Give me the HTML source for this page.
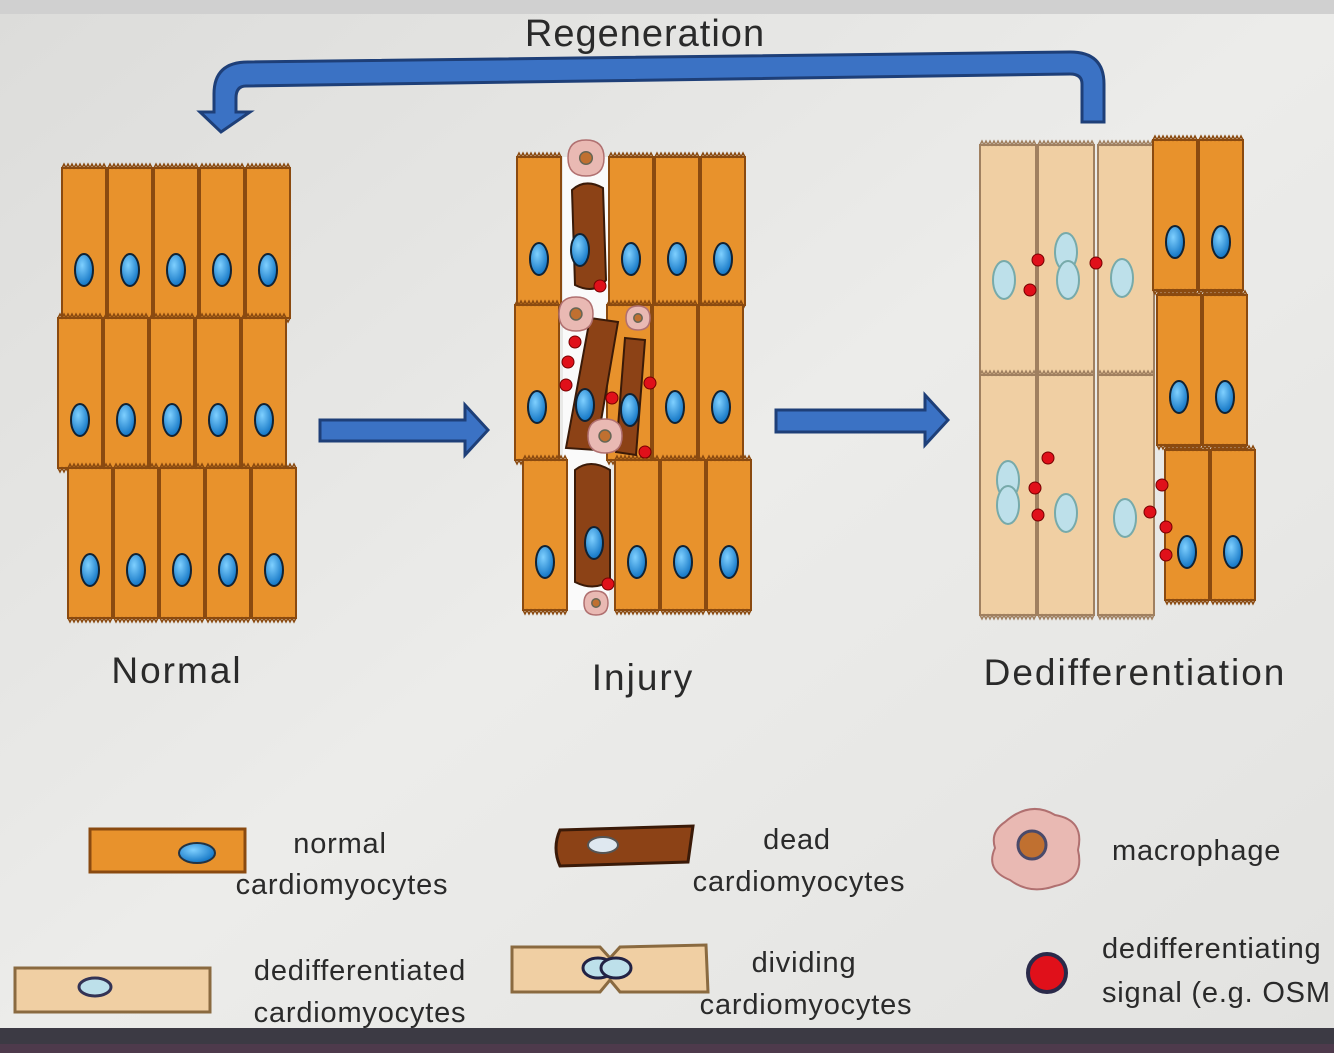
<!DOCTYPE html>
<html><head><meta charset="utf-8"><style>
html,body{margin:0;padding:0;width:1334px;height:1053px;overflow:hidden;background:#e6e6e4}
svg{display:block}
text{font-family:"Liberation Sans","DejaVu Sans",sans-serif;fill:#2a2a2a}
.big{letter-spacing:2px}
.leg{letter-spacing:0.8px}
</style></head><body>
<svg id="s" width="1334" height="1053" viewBox="0 0 1334 1053" xmlns="http://www.w3.org/2000/svg">
<defs>
<linearGradient id="bg" x1="0" y1="0" x2="1" y2="1"><stop offset="0" stop-color="#dcdcda"/><stop offset="0.5" stop-color="#ececea"/><stop offset="1" stop-color="#e2e2e0"/></linearGradient>
<radialGradient id="nuc" cx="0.4" cy="0.35" r="0.7"><stop offset="0" stop-color="#7fd0ff"/><stop offset="1" stop-color="#0a6ec0"/></radialGradient>
</defs>
<rect width="1334" height="1053" fill="url(#bg)"/>
<rect x="0" y="0" width="1334" height="14" fill="#d0d0d0"/>
<g id="cells"></g>
<path d="M1104,122 L1082,122 L1082,84 Q1082,74 1070,74 L246,86 Q236,86 236,98 L236,112 L250,112 L221,132 L200,112 L214,112 L214,94 Q214,62 248,62 L1070,52 Q1104,52 1104,84 Z" fill="#3b72c4" stroke="#1e3f78" stroke-width="3"/>
<path d="M320,420 L465,420 L465,405 L488,430 L465,455 L465,441 L320,441 Z" fill="#3b72c4" stroke="#1e3f78" stroke-width="3"/>
<path d="M776,410 L925,410 L925,395 L948,420 L925,445 L925,432 L776,432 Z" fill="#3b72c4" stroke="#1e3f78" stroke-width="3"/>
<text x="645" y="46" font-size="38" text-anchor="middle" style="letter-spacing:1px">Regeneration</text>
<text x="177" y="683" font-size="37" text-anchor="middle" class="big">Normal</text>
<text x="643" y="690" font-size="37" text-anchor="middle" class="big">Injury</text>
<text x="1135" y="685" font-size="37" text-anchor="middle" class="big">Dedifferentiation</text>
<rect x="90" y="829" width="155" height="43" fill="#e8922c" stroke="#8a4a10" stroke-width="3"/>
<ellipse cx="197" cy="853" rx="18" ry="10" fill="url(#nuc)" stroke="#234" stroke-width="2"/>
<text x="340" y="853" font-size="29" text-anchor="middle" class="leg">normal</text>
<text x="342" y="894" font-size="29" text-anchor="middle" class="leg">cardiomyocytes</text>
<path d="M560,830 L693,826 L688,862 L560,866 Q552,848 560,830Z" fill="#8c4216" stroke="#3a1a08" stroke-width="3"/>
<ellipse cx="603" cy="845" rx="15" ry="8" fill="#dfe8f0" stroke="#555" stroke-width="2"/>
<text x="797" y="849" font-size="29" text-anchor="middle" class="leg">dead</text>
<text x="799" y="891" font-size="29" text-anchor="middle" class="leg">cardiomyocytes</text>
<path d="M1005,822 Q1030,800 1055,815 Q1085,820 1078,850 Q1085,880 1055,886 Q1030,895 1010,880 Q985,870 995,848 Q990,832 1005,822Z" fill="#e9b9b3" stroke="#b07070" stroke-width="2"/>
<circle cx="1032" cy="845" r="14" fill="#c07030" stroke="#4a4a6a" stroke-width="3"/>
<text x="1112" y="860" font-size="29" class="leg">macrophage</text>
<rect x="15" y="968" width="195" height="44" fill="#f0cfa3" stroke="#8a6a40" stroke-width="3"/>
<ellipse cx="95" cy="987" rx="16" ry="9" fill="#bde0ea" stroke="#335" stroke-width="3"/>
<text x="360" y="980" font-size="29" text-anchor="middle" class="leg">dedifferentiated</text>
<text x="360" y="1022" font-size="29" text-anchor="middle" class="leg">cardiomyocytes</text>
<path d="M512,947 L600,947 L610,958 L620,947 L706,945 L708,992 L620,992 L610,980 L600,992 L512,992 Z" fill="#f0cfa3" stroke="#8a6a40" stroke-width="3"/>
<ellipse cx="598" cy="968" rx="15" ry="10" fill="#bde0ea" stroke="#224" stroke-width="3"/>
<ellipse cx="616" cy="968" rx="15" ry="10" fill="#bde0ea" stroke="#224" stroke-width="3"/>
<text x="804" y="972" font-size="29" text-anchor="middle" class="leg">dividing</text>
<text x="806" y="1014" font-size="29" text-anchor="middle" class="leg">cardiomyocytes</text>
<circle cx="1047" cy="973" r="19" fill="#e0101a" stroke="#2a2a4a" stroke-width="4"/>
<text x="1102" y="958" font-size="29" class="leg">dedifferentiating</text>
<text x="1102" y="1002" font-size="29" class="leg">signal (e.g. OSM</text>
<rect x="0" y="1028" width="1334" height="25" fill="#3c3a44"/>
<rect x="0" y="1044" width="1334" height="9" fill="#4e3a4c"/>
</svg>
<script>
var g=document.getElementById('cells'),NS='http://www.w3.org/2000/svg';
function el(t,a){var e=document.createElementNS(NS,t);for(var k in a)e.setAttribute(k,a[k]);g.appendChild(e);return e;}
function cell(x,y,w,h,fill,st){el('rect',{x:x,y:y,width:w,height:h,fill:fill,stroke:st,'stroke-width':2});
 var d='M'+x+','+y;for(var i=x;i<x+w;i+=4)d+=' L'+(i+2)+','+(y-4)+' L'+(i+4)+','+y;el('path',{d:d,fill:'none',stroke:st,'stroke-width':1.5});
 d='M'+x+','+(y+h);for(var i=x;i<x+w;i+=4)d+=' L'+(i+2)+','+(y+h+4)+' L'+(i+4)+','+(y+h);el('path',{d:d,fill:'none',stroke:st,'stroke-width':1.5});}
function nuc(cx,cy,pale){el('ellipse',{cx:cx,cy:cy,rx:pale?11:9,ry:pale?19:16,fill:pale?'#bde0ea':'url(#nuc)',stroke:pale?'#7aa':'#123','stroke-width':2});}
function red(x,y){el('circle',{cx:x,cy:y,r:6,fill:'#e0101a',stroke:'#700','stroke-width':1});}
function mac(x,y,r){el('path',{d:'M'+(x-r)+','+y+' Q'+(x-r)+','+(y-r)+' '+x+','+(y-r)+' Q'+(x+r)+','+(y-r)+' '+(x+r)+','+y+' Q'+(x+r)+','+(y+r)+' '+x+','+(y+r)+' Q'+(x-r)+','+(y+r)+' '+(x-r)+','+y,fill:'#e9b9b3',stroke:'#b07070','stroke-width':1.5});
 el('circle',{cx:x,cy:y,r:r*0.35,fill:'#c07030',stroke:'#665','stroke-width':1.5});}
var O='#e8922c',OS='#8a4a10',T='#f0cfa3',TS='#a08060';
[[62,168],[58,318],[68,468]].forEach(function(r){for(var c=0;c<5;c++){cell(r[0]+c*46,r[1],44,150,O,OS);nuc(r[0]+c*46+22,r[1]+102);}});
el('rect',{x:563,y:157,width:46,height:453,fill:'#fafafa'});
[[517,157,148],[515,305,155],[523,460,150]].forEach(function(r){for(var c=0;c<5;c++){if(c==1)continue;cell(r[0]+c*46,r[1],44,r[2],O,OS);nuc(r[0]+c*46+22,r[1]+102);}});
el('path',{d:'M572,190 Q585,178 603,188 L606,280 Q595,295 575,285 Z',fill:'#8c4216',stroke:'#3a1a08','stroke-width':2});nuc(580,250);
el('path',{d:'M590,318 L618,322 L596,450 L566,448 Z',fill:'#8c4216',stroke:'#3a1a08','stroke-width':2});nuc(585,405);
el('path',{d:'M625,338 L645,340 L636,455 L616,452 Z',fill:'#8c4216',stroke:'#3a1a08','stroke-width':2});nuc(630,410);
el('path',{d:'M575,470 Q590,458 610,470 L610,580 Q595,592 575,582 Z',fill:'#8c4216',stroke:'#3a1a08','stroke-width':2});nuc(594,543);
mac(586,158,18);mac(576,314,17);mac(638,318,12);mac(605,436,17);mac(596,603,12);
[[600,286],[575,342],[568,362],[566,385],[612,398],[650,383],[645,452],[608,584]].forEach(function(p){red(p[0],p[1]);});
[[980,145,230],[1038,145,230],[1098,145,230]].forEach(function(r){cell(r[0],r[1],56,r[2],T,TS);cell(r[0],r[1]+r[2],56,240,T,TS);});
[[1004,280],[1066,252],[1068,280],[1122,278],[1008,480],[1008,505],[1066,513],[1125,518]].forEach(function(p){nuc(p[0],p[1],1);});
[[1153,140],[1157,295],[1165,450]].forEach(function(r){for(var c=0;c<2;c++){cell(r[0]+c*46,r[1],44,150,O,OS);nuc(r[0]+c*46+22,r[1]+102);}});
[[1038,260],[1030,290],[1096,263],[1048,458],[1035,488],[1038,515],[1162,485],[1150,512],[1166,527],[1166,555]].forEach(function(p){red(p[0],p[1]);});
</script>
</body></html>
